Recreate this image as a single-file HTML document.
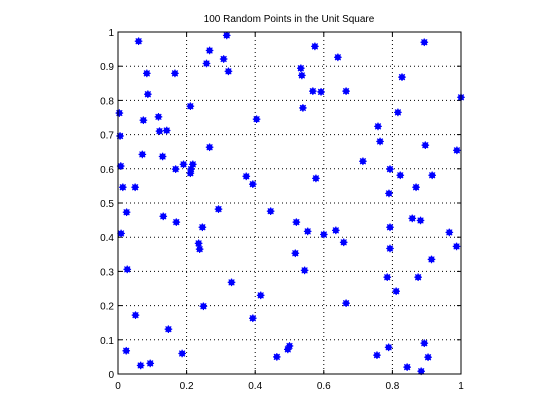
<!DOCTYPE html>
<html><head><meta charset="utf-8"><style>
html,body{margin:0;padding:0;background:#fff;}
svg{display:block;font-family:"Liberation Sans",Helvetica,sans-serif;}
</style></head><body>
<svg id="chart" width="560" height="420" viewBox="0 0 560 420" xmlns="http://www.w3.org/2000/svg">
<rect x="0" y="0" width="560" height="420" fill="#fff"/>
<text x="289" y="22" font-size="10" text-anchor="middle">100 Random Points in the Unit Square</text>
<g id="grid"></g>
<g id="ticks"></g>
<g id="pts"></g>
<rect x="118" y="32" width="343" height="342" fill="none" stroke="#000" stroke-width="1"/>
</svg>
<script>
const xVals=[0.004,0.006,0.008,0.014,0.05,0.06,0.084,0.087,0.074,0.071,0.118,0.121,0.142,0.130,0.166,0.168,0.191,0.211,0.211,0.213,0.218,0.258,0.267,0.308,0.317,0.322,0.267,0.374,0.393,0.404,
0.574,0.641,0.533,0.536,0.568,0.592,0.665,0.539,0.893,0.828,1.0,0.816,0.758,0.764,0.896,0.988,0.714,0.793,0.823,0.916,0.869,0.790,0.577,
0.009,0.025,0.027,0.051,0.024,0.066,0.094,0.132,0.170,0.147,0.187,0.235,0.238,0.246,0.249,0.293,0.331,0.393,0.416,0.445,0.463,0.495,0.500,
0.520,0.553,0.600,0.635,0.658,0.517,0.544,0.793,0.793,0.858,0.882,0.966,0.987,0.914,0.785,0.875,0.811,0.665,0.755,0.789,0.893,0.904,0.843,0.884];
const yVals=[0.763,0.696,0.608,0.546,0.546,0.973,0.879,0.818,0.742,0.642,0.752,0.710,0.712,0.636,0.879,0.599,0.613,0.783,0.587,0.599,0.613,0.908,0.946,0.921,0.990,0.885,0.663,0.578,0.555,0.745,
0.958,0.926,0.894,0.873,0.827,0.825,0.827,0.778,0.970,0.868,0.809,0.765,0.724,0.680,0.669,0.654,0.622,0.599,0.581,0.581,0.546,0.528,0.572,
0.411,0.473,0.306,0.172,0.068,0.025,0.031,0.461,0.444,0.131,0.060,0.382,0.365,0.429,0.198,0.482,0.268,0.163,0.230,0.476,0.050,0.072,0.082,
0.444,0.417,0.408,0.420,0.385,0.353,0.303,0.429,0.367,0.455,0.449,0.414,0.373,0.335,0.283,0.283,0.242,0.207,0.055,0.078,0.090,0.049,0.020,0.008];
const xTickLabels=["0","0.2","0.4","0.6","0.8","1"];
const xTicks=[0,0.2,0.4,0.6,0.8,1];
const yTickLabels=["0","0.1","0.2","0.3","0.4","0.5","0.6","0.7","0.8","0.9","1"];
const yTicks=[0,0.1,0.2,0.3,0.4,0.5,0.6,0.7,0.8,0.9,1];
const NS="http://www.w3.org/2000/svg";
const X0=118,X1=461,Y0=374,Y1=32;
function sx(v){return X0+v*(X1-X0);}
function sy(v){return Y0-v*(Y0-Y1);}
function mk(tag,attrs,parent){const e=document.createElementNS(NS,tag);for(const k in attrs)e.setAttribute(k,attrs[k]);parent.appendChild(e);return e;}
const grid=document.getElementById('grid'),ticks=document.getElementById('ticks'),pts=document.getElementById('pts');
xTicks.forEach((t,i)=>{
  const x=sx(t);
  if(t>0&&t<1){const g=mk('line',{x1:x,x2:x,y1:Y1,y2:Y0,stroke:'#000','stroke-width':1,'stroke-dasharray':'1,3'},grid);
  
  }
  const tk=mk('line',{x1:x,x2:x,y1:Y0,y2:Y0-4,stroke:'#000'},ticks);
  
  
  const tk2=mk('line',{x1:x,x2:x,y1:Y1,y2:Y1+4,stroke:'#000'},ticks);
  
  
  const l=mk('text',{x:x,y:Y0+15,'font-size':10,'text-anchor':'middle'},ticks);
  l.textContent=xTickLabels[i];
  
  
});
yTicks.forEach((t,i)=>{
  const y=sy(t);
  if(t>0&&t<1){const g=mk('line',{x1:X0,x2:X1,y1:y,y2:y,stroke:'#000','stroke-width':1,'stroke-dasharray':'1,3'},grid);
  
  }
  const tk=mk('line',{x1:X0,x2:X0+4,y1:y,y2:y,stroke:'#000'},ticks);
  
  
  const tk2=mk('line',{x1:X1,x2:X1-4,y1:y,y2:y,stroke:'#000'},ticks);
  
  
  const l=mk('text',{x:X0-4,y:y+4,'font-size':10,'text-anchor':'end'},ticks);
  l.textContent=yTickLabels[i];
  
  
});
xVals.forEach((xv,i)=>{
  const x=sx(xv),y=sy(yVals[i]);
  const g=mk('g',{fill:'#0000ff',stroke:'#0000ff'},pts);
  
  
  mk('circle',{cx:x,cy:y,r:3,stroke:'none'},g);
  mk('line',{x1:x-3.8,x2:x+3.8,y1:y,y2:y,'stroke-width':1.2},g);
  mk('line',{x1:x,x2:x,y1:y-3.8,y2:y+3.8,'stroke-width':1.2},g);
  mk('line',{x1:x-2.8,x2:x+2.8,y1:y-2.8,y2:y+2.8,'stroke-width':1.2},g);
  mk('line',{x1:x-2.8,x2:x+2.8,y1:y+2.8,y2:y-2.8,'stroke-width':1.2},g);
});
</script>
</body></html>
